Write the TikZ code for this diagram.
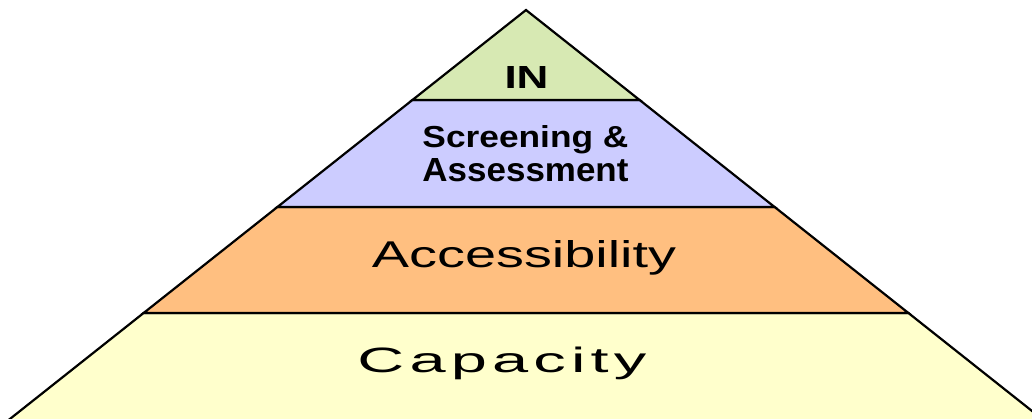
\documentclass[tikz,border=0pt]{standalone}
\usepackage{fontspec}
\setmainfont{Liberation Sans}
\definecolor{ingreen}{RGB}{215,233,179}
\definecolor{screenlav}{RGB}{204,204,255}
\definecolor{accorange}{RGB}{255,191,128}
\definecolor{capyellow}{RGB}{255,255,204}
\begin{document}
\begin{tikzpicture}[x=1pt,y=-1pt,
  band/.style={draw=black,line width=2.2pt,line join=miter},
  label/.style={inner sep=0pt,anchor=base,text=black}]
\useasboundingbox (0,0) rectangle (1032,418);
% corner coordinates
\coordinate (apex) at (526,10);
\coordinate (l1) at (412.4,100); \coordinate (r1) at (639.6,100);
\coordinate (l2) at (277.4,207); \coordinate (r2) at (774.6,207);
\coordinate (l3) at (143.6,313); \coordinate (r3) at (908.4,313);
\coordinate (l4) at (-4.0,430);  \coordinate (r4) at (1056.0,430);
\begin{scope}
\clip (0,0) rectangle (1032,418);
\draw[band,fill=capyellow] (l3) -- (r3) -- (r4) -- (l4) -- cycle;
\draw[band,fill=accorange] (l2) -- (r2) -- (r3) -- (l3) -- cycle;
\draw[band,fill=screenlav] (l1) -- (r1) -- (r2) -- (l2) -- cycle;
\draw[band,fill=ingreen] (apex) -- (r1) -- (l1) -- cycle;
\end{scope}
\node[label] (tin) at (526.5,88) {\resizebox{44pt}{22pt}{\bfseries IN}};
\node[label] (tscr) at (525.5,147) {\resizebox{206pt}{22pt}{\bfseries Screening \&}};
\node[label] (tass) at (525.5,181) {\resizebox{206pt}{23pt}{\bfseries Assessment}};
\node[label] (tacc) at (524,267) {\resizebox{304pt}{27pt}{Accessibility}};
\node[label] (tcap) at (502,372) {\resizebox{289pt}{25.5pt}{\addfontfeature{LetterSpace=8}Capacity}};
\end{tikzpicture}
\end{document}
